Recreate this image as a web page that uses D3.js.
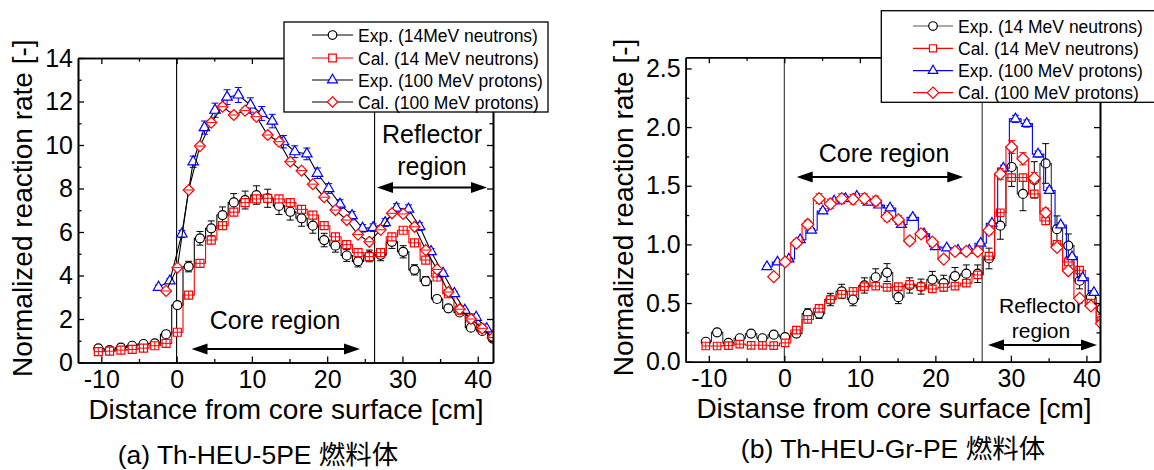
<!DOCTYPE html>
<html>
<head>
<meta charset="utf-8">
<script src="https://cdn.jsdelivr.net/npm/d3@7"></script>
<style>
  body { margin: 0; background: #fff; }
  text { font-family: "Liberation Sans", Arial, "Noto Sans CJK JP", sans-serif; fill: #000; }
</style>
</head>
<body>
<svg id="chart" width="1154" height="470"></svg>
<script>
// ---- (a) Th-HEU-5PE ----
var xA_n = [-10.4,-8.9,-7.4,-5.9,-4.4,-2.9,-1.4,0.1,1.6,3.1,4.6,6.1,7.6,9.1,10.6,12.1,13.6,15.1,16.6,18.1,19.6,21.1,22.6,24.1,25.6,27.1,28.6,30.1,31.6,33.1,34.6,36.1,37.6,39.1,40.6,42.0];
var expN_A = [0.65,0.57,0.68,0.77,0.85,0.88,1.3,2.64,4.41,5.71,6.17,6.78,7.36,7.47,7.7,7.55,7.2,6.93,6.63,6.29,5.63,5.37,4.92,4.65,4.9,4.95,5.55,5.09,4.26,3.74,2.92,2.49,2.3,1.6,1.45,1.1];
var calN_A = [0.5,0.52,0.57,0.6,0.66,0.77,0.88,1.39,3.1,4.56,5.63,6.29,6.91,7.35,7.52,7.55,7.52,7.35,7.04,6.78,6.29,5.78,5.42,5.05,4.87,5.05,5.78,6.08,5.5,4.71,3.93,3.16,2.41,2.05,1.58,1.3];
var xA_pExp = [-2.4,-0.9,0.7,2.2,3.7,5.1,6.7,8.2,9.8,11.3,12.7,14.2,15.7,17.3,18.7,20.2,21.7,23.3,24.7,26.1,27.7,29.2,30.8,32.3,33.8,35.4,36.9,38.3,39.8,41.2];
var expP_A = [3.46,3.75,5.91,9.23,10.8,11.6,12.2,12.3,11.84,11.45,11.1,10.15,9.69,9.59,8.7,8.0,7.28,6.75,6.17,6.2,6.43,7.1,7.05,6.25,5.1,4.1,3.17,2.4,2.08,1.55];
var xA_pCal = [-1.4,0.1,1.6,3.1,4.6,6.1,7.6,9.1,10.6,12.1,13.6,15.1,16.6,18.1,19.6,21.1,22.6,24.1,25.6,27.1,28.6,30.1,31.6,33.1,34.6,36.1,37.6,39.1,40.6,42.0];
var calP_A = [3.29,4.36,7.93,9.95,11.03,11.76,11.38,11.58,11.3,10.46,10.15,9.23,8.82,8.2,7.6,7.01,6.55,5.88,5.55,6.1,6.86,6.83,6.24,5.17,4.28,3.24,2.45,2.0,1.57,1.15];

// ---- (b) Th-HEU-Gr-PE ----
var xB_n = [-10.4,-8.9,-7.4,-5.9,-4.4,-2.9,-1.4,0.1,1.6,3.1,4.6,6.1,7.6,9.1,10.6,12.1,13.6,15.1,16.6,18.1,19.6,21.1,22.6,24.1,25.6,27.1,28.6,30.1,31.6,33.1,34.6,36.1,37.6,39.1,40.6,42.0];
var expN_B = [0.17,0.25,0.16,0.2,0.24,0.2,0.23,0.21,0.24,0.41,0.41,0.53,0.6,0.53,0.65,0.72,0.76,0.55,0.65,0.64,0.7,0.67,0.73,0.75,0.75,0.88,1.16,1.66,1.43,1.55,1.69,1.13,0.99,0.69,0.55,0.45];
var calN_B = [0.134,0.134,0.137,0.15,0.14,0.14,0.137,0.16,0.27,0.36,0.455,0.53,0.575,0.6,0.64,0.645,0.634,0.64,0.66,0.64,0.62,0.634,0.645,0.67,0.74,0.9,1.27,1.57,1.57,1.43,1.2,1.0,0.85,0.78,0.5,0.35];
var xB_pExp = [-2.3,-0.9,0.6,2.1,3.6,5.1,6.6,8.1,9.6,11.1,12.5,14.0,15.5,17.0,18.5,20.0,21.5,23.0,24.5,26.0,27.5,29.0,30.6,32.1,33.6,35.1,36.6,38.1,39.5,41.0];
var expP_B = [0.81,0.85,0.875,1.04,1.12,1.285,1.37,1.39,1.41,1.36,1.335,1.31,1.17,1.23,1.09,0.98,0.97,0.95,0.95,1.01,1.18,1.65,2.07,2.03,1.77,1.46,1.165,0.895,0.715,0.59];
var xB_pCal = [-1.4,0.1,1.6,3.1,4.6,6.1,7.6,9.1,10.6,12.1,13.6,15.1,16.6,18.1,19.6,21.1,22.6,24.1,25.6,27.1,28.6,30.1,31.6,33.1,34.6,36.1,37.6,39.1,40.6,42.0];
var calP_B = [0.725,0.85,1.01,1.17,1.39,1.345,1.39,1.385,1.39,1.37,1.235,1.21,1.03,1.09,1.02,0.875,0.94,0.94,0.94,1.12,1.6,1.83,1.73,1.565,1.27,0.975,0.775,0.54,0.475,0.325];

// tick values and labels
var xMajor = [-10, 0, 10, 20, 30, 40];
var xMinor = [-5, 5, 15, 25, 35];
var yMajorA = [0, 2, 4, 6, 8, 10, 12, 14];
var yMinorA = [1, 3, 5, 7, 9, 11, 13];
var yMajorB = [0, 0.5, 1.0, 1.5, 2.0, 2.5];
var yMinorB = [0.25, 0.75, 1.25, 1.75, 2.25];
var legendA = ["Exp. (14MeV neutrons)", "Cal. (14 MeV neutrons)", "Exp. (100 MeV protons)", "Cal. (100 MeV protons)"];
var legendB = ["Exp. (14 MeV neutrons)", "Cal. (14 MeV neutrons)", "Exp. (100 MeV protons)", "Cal. (100 MeV protons)"];

var svg = d3.select("#chart");

function markerPath(type, s) {
    if (type == "circle") return d3.symbol(d3.symbolCircle, Math.PI * s * s / 4)();
    if (type == "square") return d3.symbol(d3.symbolSquare, s * s)();
    if (type == "triangle") return d3.symbol(d3.symbolTriangle, Math.sqrt(3) / 4 * s * s)();
    var r = s / 2;
    return "M0," + (-r) + "L" + r + ",0L0," + r + "L" + (-r) + ",0Z";
}

function drawMarker(g, cx, cy, s) {
    var m = g.append("g").attr("transform", "translate(" + cx + "," + cy + ")");
    m.append("path").attr("d", markerPath(s.shape, s.size))
        .attr("fill", "#fff").attr("stroke", s.color).attr("stroke-width", 1.2);
    if (s.inner == "plus") {
        var h = s.size / 2;
        m.append("line").attr("x1", -h).attr("x2", h).attr("y1", 0).attr("y2", 0).attr("stroke", s.color).attr("stroke-width", 1);
        m.append("line").attr("x1", 0).attr("x2", 0).attr("y1", -h).attr("y2", h).attr("stroke", s.color).attr("stroke-width", 1);
    } else if (s.inner == "hline") {
        var h2 = s.size / 2 - 1;
        m.append("line").attr("x1", -h2).attr("x2", h2).attr("y1", 0).attr("y2", 0).attr("stroke", s.color).attr("stroke-width", 1);
    }
}

function drawSeries(g, x, y, s) {
    var pts = s.xs.map(function(xv, i) { return {x: xv, v: s.vals[i]}; });
    var line = d3.line()
        .x(function(d) { return x(d.x); })
        .y(function(d) { return y(d.v); })
        .curve(s.step ? d3.curveStep : d3.curveLinear);
    g.append("path").datum(pts).attr("d", line)
        .attr("fill", "none").attr("stroke", s.lineColor).attr("stroke-width", 1.1);

    // error bars
    pts.forEach(function(d) {
        var e = d.v * s.err;
        if (e <= 0) return;
        var px = x(d.x), y1 = y(d.v + e), y2 = y(d.v - e);
        g.append("line").attr("x1", px).attr("x2", px).attr("y1", y1).attr("y2", y2).attr("stroke", s.errColor).attr("stroke-width", 1);
        g.append("line").attr("x1", px - 3.5).attr("x2", px + 3.5).attr("y1", y1).attr("y2", y1).attr("stroke", s.errColor).attr("stroke-width", 1);
        g.append("line").attr("x1", px - 3.5).attr("x2", px + 3.5).attr("y1", y2).attr("y2", y2).attr("stroke", s.errColor).attr("stroke-width", 1);
    });

    pts.forEach(function(d) { drawMarker(g, x(d.x), y(d.v), s); });
}

function arrow(g, x1, x2, yy) {
    g.append("line").attr("x1", x1 + 12).attr("x2", x2 - 12).attr("y1", yy).attr("y2", yy).attr("stroke", "#000").attr("stroke-width", 2);
    g.append("path").attr("d", "M" + x1 + "," + yy + "L" + (x1 + 16) + "," + (yy - 5.5) + "L" + (x1 + 16) + "," + (yy + 5.5) + "Z").attr("fill", "#000");
    g.append("path").attr("d", "M" + x2 + "," + yy + "L" + (x2 - 16) + "," + (yy - 5.5) + "L" + (x2 - 16) + "," + (yy + 5.5) + "Z").attr("fill", "#000");
}

function drawPanel(p) {
    var x = d3.scaleLinear().domain(p.xDomain).range([p.left, p.right]);
    var y = d3.scaleLinear().domain(p.yDomain).range([p.bottom, p.top]);
    var g = svg.append("g");

    svg.append("clipPath").attr("id", "clip" + p.id).append("rect")
        .attr("x", p.left).attr("y", p.top)
        .attr("width", p.right - p.left).attr("height", p.bottom - p.top);

    // region boundary lines
    p.vlines.forEach(function(v) {
        g.append("line").attr("x1", x(v)).attr("x2", x(v)).attr("y1", p.top).attr("y2", p.bottom)
            .attr("stroke", p.vlineColor).attr("stroke-width", 1.1);
    });

    // annotations
    var ann = g.append("g");
    p.notes.forEach(function(n) {
        ann.append("text").attr("x", n.x).attr("y", n.y).attr("text-anchor", "middle")
            .style("font-size", n.size + "px").text(n.text);
    });
    p.arrows.forEach(function(a) { arrow(ann, a[0], a[1], a[2]); });

    // data
    var plot = g.append("g").attr("clip-path", "url(#clip" + p.id + ")");
    p.series.forEach(function(s) { drawSeries(plot, x, y, s); });

    // axes, ticks inward on all four sides
    function styleAxis(ax) {
        ax.selectAll("path.domain").attr("stroke", "#000").attr("stroke-width", 1.6);
        ax.selectAll(".tick line").attr("stroke", "#000").attr("stroke-width", 1.3);
        ax.selectAll(".tick text").style("font-size", "25px").attr("font-family", null);
    }
    var fmtX = function(d) { return String(d); };
    var bx = g.append("g").attr("transform", "translate(0," + p.bottom + ")")
        .call(d3.axisBottom(x).tickValues(xMajor).tickSize(-6).tickSizeOuter(0).tickPadding(8).tickFormat(fmtX));
    styleAxis(bx);
    var bxm = g.append("g").attr("transform", "translate(0," + p.bottom + ")")
        .call(d3.axisBottom(x).tickValues(xMinor).tickSize(-3.5).tickSizeOuter(0).tickFormat(""));
    styleAxis(bxm);
    var tx = g.append("g").attr("transform", "translate(0," + p.top + ")")
        .call(d3.axisTop(x).tickValues(xMajor).tickSize(-6).tickSizeOuter(0).tickFormat(""));
    styleAxis(tx);
    var txm = g.append("g").attr("transform", "translate(0," + p.top + ")")
        .call(d3.axisTop(x).tickValues(xMinor).tickSize(-3.5).tickSizeOuter(0).tickFormat(""));
    styleAxis(txm);

    var ly = g.append("g").attr("transform", "translate(" + p.left + ",0)")
        .call(d3.axisLeft(y).tickValues(p.yMajor).tickSize(-6).tickSizeOuter(0).tickPadding(5).tickFormat(p.yFmt));
    styleAxis(ly);
    var lym = g.append("g").attr("transform", "translate(" + p.left + ",0)")
        .call(d3.axisLeft(y).tickValues(p.yMinor).tickSize(-3.5).tickSizeOuter(0).tickFormat(""));
    styleAxis(lym);
    var ry = g.append("g").attr("transform", "translate(" + p.right + ",0)")
        .call(d3.axisRight(y).tickValues(p.yMajor).tickSize(-6).tickSizeOuter(0).tickFormat(""));
    styleAxis(ry);
    var rym = g.append("g").attr("transform", "translate(" + p.right + ",0)")
        .call(d3.axisRight(y).tickValues(p.yMinor).tickSize(-3.5).tickSizeOuter(0).tickFormat(""));
    styleAxis(rym);

    // titles
    g.append("text").attr("transform", "translate(" + p.yTitleX + "," + ((p.top + p.bottom) / 2 - 2) + ") rotate(-90)")
        .attr("text-anchor", "middle").style("font-size", "28px").text("Normalized reaction rate [-]");
    g.append("text").attr("x", p.xTitleX).attr("y", p.xTitleY).attr("text-anchor", "middle")
        .style("font-size", "28px").text(p.xTitle);
    g.append("text").attr("x", p.capX).attr("y", p.capY).attr("text-anchor", "middle")
        .style("font-size", "26.5px").text(p.caption);

    // legend
    var lg = svg.append("g");
    var L = p.legend;
    lg.append("rect").attr("x", L.x).attr("y", L.y).attr("width", L.w).attr("height", L.h)
        .attr("fill", "#fff").attr("stroke", "#000").attr("stroke-width", 1.3);
    p.series.forEach(function(s, i) {
        var ry0 = L.rowY[i];
        lg.append("line").attr("x1", L.lx1).attr("x2", L.lx2).attr("y1", ry0).attr("y2", ry0)
            .attr("stroke", s.legendLine).attr("stroke-width", 1.2);
        drawMarker(lg, (L.lx1 + L.lx2) / 2, ry0, {shape: s.shape, size: s.size * 0.95, color: s.color});
        lg.append("text").attr("x", L.tx).attr("y", ry0 + 6.5).style("font-size", "17.5px").text(L.labels[i]);
    });
}

drawPanel({
    id: "A", left: 78, right: 493, top: 58, bottom: 362.5,
    xDomain: [-13.1, 42.03], yDomain: [0, 14],
    yMajor: yMajorA, yMinor: yMinorA,
    yFmt: function(d) { return String(d); },
    vlines: [0, 26.3], vlineColor: "#000",
    series: [
        {xs: xA_n, vals: expN_A, shape: "circle", size: 9, color: "#000", lineColor: "#000", errColor: "#000", err: 0.055, step: true, legendLine: "#000"},
        {xs: xA_n, vals: calN_A, shape: "square", size: 8, color: "#ff0000", lineColor: "#ff0000", errColor: "#ff0000", err: 0.0, step: true, inner: "plus", legendLine: "#ff0000"},
        {xs: xA_pExp, vals: expP_A, shape: "triangle", size: 10.5, color: "#0000ff", lineColor: "#000", errColor: "#0000ff", err: 0.028, step: false, legendLine: "#000"},
        {xs: xA_pCal, vals: calP_A, shape: "diamond", size: 11, color: "#ff0000", lineColor: "#000", errColor: "#ff0000", err: 0.012, step: false, inner: "hline", legendLine: "#000"}
    ],
    notes: [
        {text: "Core region", x: 275, y: 329, size: 25},
        {text: "Reflector", x: 432, y: 143, size: 25},
        {text: "region", x: 432, y: 175, size: 25}
    ],
    arrows: [[191.5, 360, 349], [377, 487, 187.5]],
    yTitleX: 32, xTitle: "Distance from core surface [cm]", xTitleX: 286, xTitleY: 419,
    caption: "(a) Th-HEU-5PE 燃料体", capX: 258, capY: 464,
    legend: {x: 284, y: 22, w: 264, h: 90, rowY: [35, 58, 80, 102], lx1: 312, lx2: 353, tx: 358, labels: legendA}
});

drawPanel({
    id: "B", left: 685.7, right: 1100, top: 57.3, bottom: 361.7,
    xDomain: [-13.06, 41.8], yDomain: [0, 2.595],
    yMajor: yMajorB, yMinor: yMinorB,
    yFmt: d3.format(".1f"),
    vlines: [0, 26.2], vlineColor: "#333",
    series: [
        {xs: xB_n, vals: expN_B, shape: "circle", size: 9, color: "#000", lineColor: "#333", errColor: "#000", err: 0.1, step: true, legendLine: "#555"},
        {xs: xB_n, vals: calN_B, shape: "square", size: 7.5, color: "#ff0000", lineColor: "#ff0000", errColor: "#ff0000", err: 0.0, step: true, inner: "plus", legendLine: "#ff0000"},
        {xs: xB_pExp, vals: expP_B, shape: "triangle", size: 10, color: "#0000ff", lineColor: "#0000ff", errColor: "#0000ff", err: 0.015, step: true, legendLine: "#0000ff"},
        {xs: xB_pCal, vals: calP_B, shape: "diamond", size: 12, color: "#ff0000", lineColor: "#ff0000", errColor: "#ff0000", err: 0.03, step: true, legendLine: "#ff0000"}
    ],
    notes: [
        {text: "Core region", x: 884, y: 162, size: 25},
        {text: "Reflector", x: 1041, y: 313, size: 21},
        {text: "region", x: 1041, y: 338, size: 21}
    ],
    arrows: [[796.7, 963.3, 177], [988, 1097, 345]],
    yTitleX: 633, xTitle: "Distanse from core surface [cm]", xTitleX: 894, xTitleY: 418,
    caption: "(b) Th-HEU-Gr-PE 燃料体", capX: 893, capY: 458,
    legend: {x: 881.3, y: 10.7, w: 290, h: 91.6, rowY: [26, 48.3, 70.7, 92.7], lx1: 913, lx2: 953, tx: 958, labels: legendB}
});
</script>
</body>
</html>
